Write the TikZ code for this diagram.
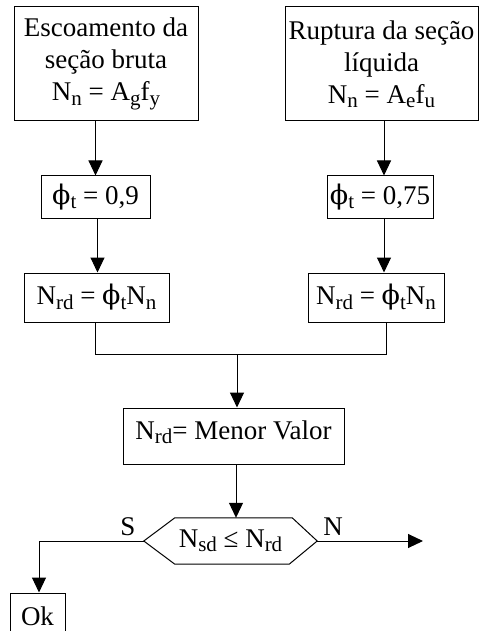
\documentclass[tikz,border=0pt]{standalone}
\usepackage{fontspec}
\setmainfont{Liberation Serif}
\newfontfamily\dvs{DejaVu Serif}
\usetikzlibrary{arrows.meta}
\newcommand\sub[1]{\raisebox{-0.35ex}{\fontsize{21}{21}\selectfont #1}}
\newcommand\fii{{\dvs ϕ}}
\begin{document}
\begin{tikzpicture}[x=1pt,y=-1pt,
  font=\fontsize{27}{32}\selectfont,
  box/.style={draw, line width=1pt, inner sep=0pt, align=center},
  arr/.style={line width=1pt, -{Triangle[length=15pt,width=14pt]}},
  ln/.style={line width=1pt}]
\useasboundingbox (0,0) rectangle (480,631);
\node[box, minimum width=184pt, minimum height=114pt] (b1) at (106,64)
  {Escoamento da\\seção bruta\\N\sub{n} = A\sub{g}f\sub{y}};
\node[box, minimum width=193pt, minimum height=114pt] (b2) at (381.5,64)
  {Ruptura da seção\\líquida\\N\sub{n} = A\sub{e}f\sub{u}};
\node[box, minimum width=109pt, minimum height=42pt] (p1) at (95.5,197)
  {\fii\sub{t} = 0,9};
\node[box, minimum width=106pt, minimum height=42pt] (p2) at (380,197)
  {\fii\sub{t} = 0,75};
\node[box, minimum width=145pt, minimum height=49pt] (n1) at (96.5,297.5)
  {N\sub{rd} = \fii\sub{t}N\sub{n}};
\node[box, minimum width=136pt, minimum height=49pt] (n2) at (376,297.5)
  {N\sub{rd} = \fii\sub{t}N\sub{n}};
\node[box, minimum width=221pt, minimum height=56pt, text depth=12pt] (mv) at (233.5,436)
  {N\sub{rd}= Menor Valor};
\node[inner sep=0pt, minimum width=173pt, minimum height=46pt] (hx) at (230.5,541)
  {N\sub{sd} ≤ N\sub{rd}};
\draw[ln] (hx.west) -- ([xshift=31pt]hx.north west) -- ([xshift=-25pt]hx.north east)
  -- (hx.east) -- ([xshift=-28pt]hx.south east) -- ([xshift=31pt]hx.south west) -- cycle;
\node[box, minimum width=55pt, minimum height=47pt] (ok) at (37.5,616.5) {Ok};
\node (sl) at (128,527) {S};
\node (nl) at (333,527) {N};
\coordinate (jl) at (95,354);
\coordinate (jr) at (386,354);
\coordinate (jm) at (237,354);
\coordinate (ne) at (423,541);
\coordinate (hl) at (39,541);
\draw[arr] (p1.north |- b1.south) -- (p1.north);
\draw[arr] ([xshift=4pt]p2.north |- b2.south) -- ([xshift=4pt]p2.north);
\draw[arr] ([xshift=1pt]n1.north |- p1.south) -- ([xshift=1pt]n1.north);
\draw[arr] ([xshift=8pt]n2.north |- p2.south) -- ([xshift=8pt]n2.north);
\draw[ln] (n1.south -| jl) -- (jl) -- (jr) -- (n2.south -| jr);
\draw[arr] (jm) -- (jm |- mv.north);
\draw[arr] ([xshift=2.5pt]mv.south) -- ([xshift=2.5pt]mv.south |- hx.north);
\draw[arr] (hx.west) -- (hl) -- (hl |- ok.north);
\draw[arr] (hx.east) -- (ne);
\end{tikzpicture}
\end{document}
